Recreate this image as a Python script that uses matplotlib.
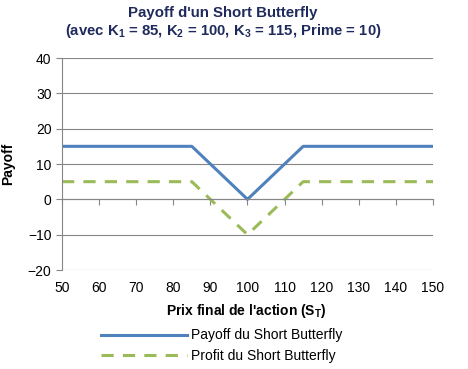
import numpy as np
import matplotlib
matplotlib.use("Agg")
import matplotlib.pyplot as plt

plt.rcParams['font.family'] = ['Liberation Sans', 'DejaVu Sans']

# prix final de l'action et valeurs des deux courbes
prix = [50, 85, 100, 115, 150]
payoff = [15, 15, 0, 15, 15]
profit = [5, 5, -10, 5, 5]
xticks = np.arange(50, 151, 10)
yticks = np.arange(-20, 41, 10)

bleu = '#4F81BD'
vert = '#9BBB59'
gris = '#868686'

fig = plt.figure(figsize=(4.68, 3.69), dpi=100)
ax = fig.add_axes([62/468, 1-270/369, (433-62)/468, (270-58)/369])

ax.plot(prix, payoff, color=bleu, lw=2.2, label='Payoff du Short Butterfly')
ax.plot(prix, profit, color=vert, lw=2.2, ls=(0, (4, 3)), label='Profit du Short Butterfly')

ax.set_xlim(50, 150)
ax.set_ylim(-20, 40)
ax.set_xticks(xticks)
ax.set_yticks(yticks)
ax.grid(axis='y', color=gris, lw=0.8)
ax.set_axisbelow(True)

for s in ['top', 'right']:
    ax.spines[s].set_visible(False)
ax.spines['left'].set_color(gris)
ax.spines['bottom'].set_color(gris)
ax.spines['bottom'].set_position(('data', 0))
ax.tick_params(axis='x', length=4, color=gris, pad=54.5, labelsize=10)
ax.tick_params(axis='y', length=4, color=gris, labelsize=10)

ax.set_ylabel('Payoff', fontsize=10, fontweight='bold', labelpad=9)
fig.text(246/468, 1-311/369, "Prix final de l'action (S$_\\mathregular{T}$)",
         ha='center', va='center', fontsize=10, fontweight='bold')

titre_col = '#1F2A5C'
fig.text(223/468, 1-13/369, "Payoff d'un Short Butterfly", ha='center', va='center',
         fontsize=10.8, fontweight='bold', color=titre_col)
fig.text(223/468, 1-31/369,
         "(avec K$_\\mathregular{1}$ = 85, K$_\\mathregular{2}$ = 100, K$_\\mathregular{3}$ = 115, Prime = 10)",
         ha='center', va='center', fontsize=10.7, fontweight='bold', color=titre_col)

fig.legend(loc='upper left', bbox_to_anchor=(88/468, 1-316/369), frameon=False,
           fontsize=10, handlelength=6.2, handletextpad=0.3, labelspacing=0.45)

fig.savefig('out.png', dpi=100)
